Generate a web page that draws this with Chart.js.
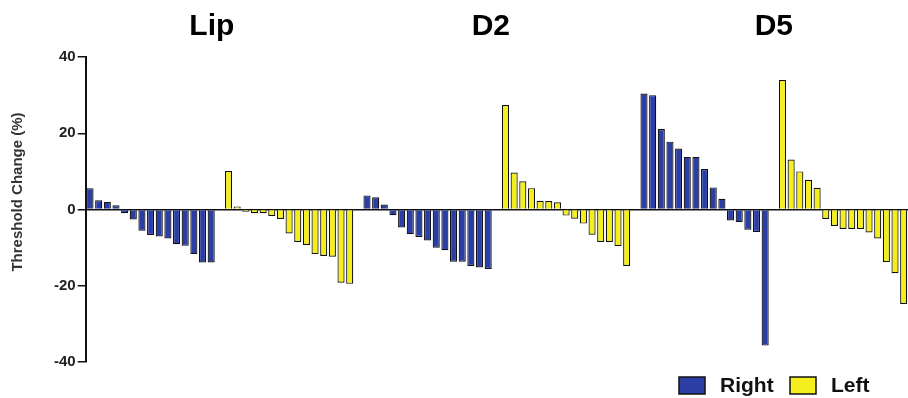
<!DOCTYPE html>
<html>
<head>
<meta charset="utf-8">
<script src="https://cdn.jsdelivr.net/npm/chart.js@4"></script>
<style>
  html, body { margin: 0; padding: 0; background: #fff; }
  #wrap { width: 908px; height: 398px; }
</style>
</head>
<body>
<div id="wrap"><canvas id="chart"></canvas></div>
<script>
// values, sorted as in the reference (waterfall)
const groupNames = ["Lip", "D2", "D5"];
const lipRight = [5.6, 2.4, 2.0, 1.1, -1.0, -2.6, -5.6, -6.7, -7.1, -7.6, -9.1, -9.5, -11.7, -13.9, -13.9];
const lipLeft = [10.1, 0.8, -0.6, -1.0, -1.0, -1.7, -2.5, -6.3, -8.5, -9.3, -11.7, -12.2, -12.4, -19.2, -19.5];
const d2Right = [3.7, 3.2, 1.3, -1.5, -4.7, -6.5, -7.2, -8.1, -10.0, -10.7, -13.7, -13.7, -14.8, -15.2, -15.6];
const d2Left = [27.4, 9.7, 7.4, 5.6, 2.3, 2.2, 1.9, -1.6, -2.4, -3.7, -6.6, -8.5, -8.5, -9.6, -14.8];
const d5Right = [30.4, 30.0, 21.1, 17.8, 16.0, 13.8, 13.8, 10.6, 5.8, 2.8, -2.9, -3.3, -5.3, -5.9, -35.7];
const d5Left = [34.0, 13.1, 10.0, 7.8, 5.7, -2.5, -4.3, -5.1, -5.1, -5.1, -6.0, -7.6, -13.8, -16.7, -24.8];
const yTicks = [-40, -20, 0, 20, 40];
const yTitle = "Threshold Change (%)";

const rightGroups = [lipRight, d2Right, d5Right];
const leftGroups = [lipLeft, d2Left, d5Left];

const FONT = "'Liberation Sans', Arial, sans-serif";

// build one long category axis: right bars, empty slot, left bars, empty slot...
let labels = [];
let rightData = [];
let leftData = [];
let groupSpans = [];
for (let g = 0; g < groupNames.length; g++) {
  const start = labels.length;
  for (let i = 0; i < rightGroups[g].length; i++) {
    labels.push("");
    rightData.push(rightGroups[g][i]);
    leftData.push(null);
  }
  labels.push("");
  rightData.push(null);
  leftData.push(null);
  for (let i = 0; i < leftGroups[g].length; i++) {
    labels.push("");
    rightData.push(null);
    leftData.push(leftGroups[g][i]);
  }
  groupSpans.push([start, labels.length - 1]);
  if (g < groupNames.length - 1) {
    labels.push("");
    rightData.push(null);
    leftData.push(null);
  }
}

// group titles, y axis title and the legend at the bottom right
const extras = {
  id: "extras",
  afterDraw(chart) {
    const ctx = chart.ctx;
    const x = chart.scales.x;
    ctx.save();
    ctx.fillStyle = "#000";
    ctx.font = "bold 30px " + FONT;
    ctx.textAlign = "center";
    ctx.textBaseline = "alphabetic";
    const shift = [-8, -6, 0];
    for (let g = 0; g < groupNames.length; g++) {
      const cx = (x.getPixelForValue(groupSpans[g][0]) + x.getPixelForValue(groupSpans[g][1])) / 2;
      ctx.fillText(groupNames[g], cx + shift[g], 35);
    }

    // rotated axis title
    ctx.save();
    ctx.translate(18, 192);
    ctx.rotate(-Math.PI / 2);
    ctx.font = "bold 15px " + FONT;
    ctx.fillStyle = "#333";
    ctx.textBaseline = "middle";
    ctx.fillText(yTitle, 0, 0);
    ctx.restore();

    // legend
    const items = chart.data.datasets;
    const boxX = [679, 790];
    ctx.font = "bold 21px " + FONT;
    ctx.textAlign = "left";
    ctx.textBaseline = "middle";
    for (let i = 0; i < items.length; i++) {
      ctx.fillStyle = items[i].backgroundColor;
      ctx.fillRect(boxX[i], 377, 26, 17);
      ctx.lineWidth = 1.5;
      ctx.strokeStyle = "#111";
      ctx.strokeRect(boxX[i], 377, 26, 17);
      ctx.fillStyle = "#111";
      ctx.fillText(items[i].label, boxX[i] + 41, 386);
    }
    ctx.restore();
  },
};

new Chart(document.getElementById("chart"), {
  type: "bar",
  data: {
    labels: labels,
    datasets: [
      {
        label: "Right",
        data: rightData,
        backgroundColor: "#2b3ea6",
        borderColor: "#111",
        borderWidth: 1.2,
        grouped: false,
        categoryPercentage: 1,
        barPercentage: 0.82,
      },
      {
        label: "Left",
        data: leftData,
        backgroundColor: "#f4ee1e",
        borderColor: "#111",
        borderWidth: 1.2,
        grouped: false,
        categoryPercentage: 1,
        barPercentage: 0.82,
      },
    ],
  },
  options: {
    responsive: true,
    maintainAspectRatio: false,
    animation: false,
    layout: { padding: { top: 57, right: 0, left: 52, bottom: 36 } },
    plugins: {
      tooltip: { enabled: false },
      legend: { display: false },
    },
    scales: {
      x: {
        display: false,
      },
      y: {
        min: -40,
        max: 40,
        afterBuildTicks(axis) {
          axis.ticks = yTicks.map((v) => ({ value: v }));
        },
        border: { display: true, color: "#111", width: 2 },
        grid: {
          color: (c) => (c.tick && c.tick.value === 0 ? "#111" : "rgba(0,0,0,0)"),
          lineWidth: 1.5,
          tickColor: "#111",
          tickLength: 8,
        },
        ticks: {
          color: "#222",
          padding: 2,
          font: { family: FONT, size: 15, weight: "bold" },
        },
      },
    },
  },
  plugins: [extras],
});
</script>
</body>
</html>
